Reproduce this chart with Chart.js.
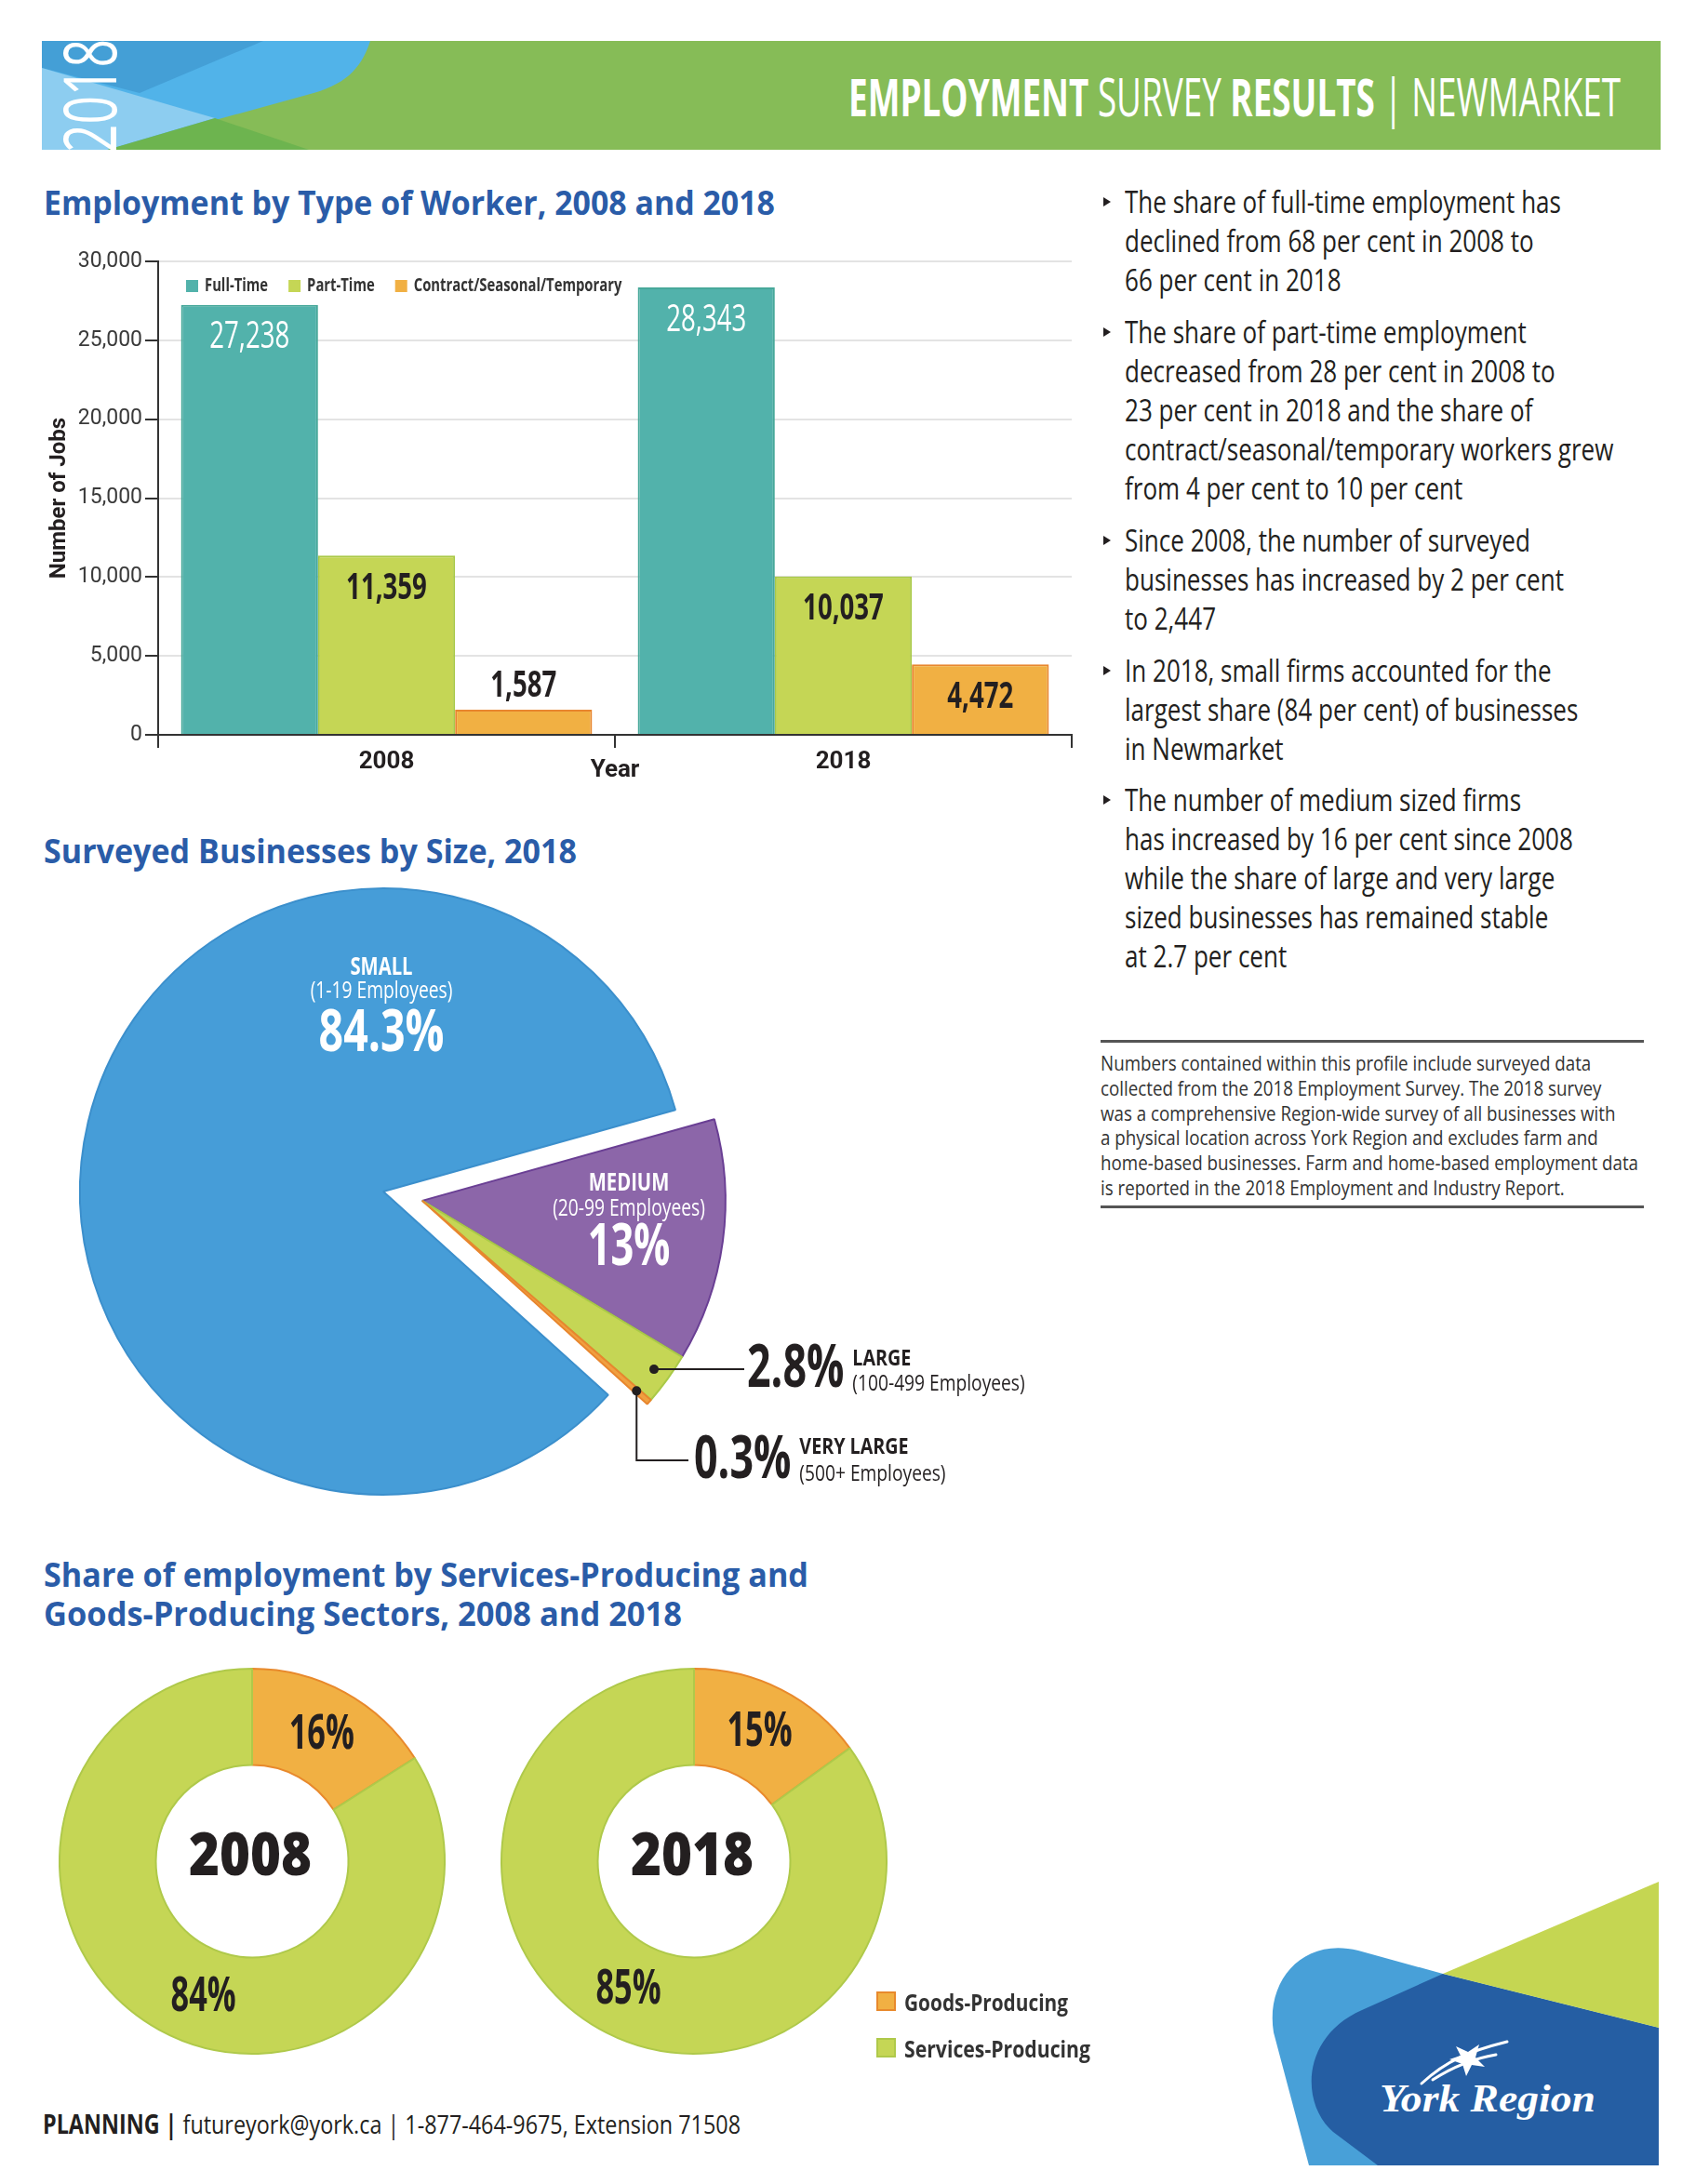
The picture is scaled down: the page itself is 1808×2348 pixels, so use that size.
<!DOCTYPE html>
<html lang="en">
<head>
<meta charset="UTF-8">
<title>Employment Survey Results | Newmarket</title>
<script src="https://cdn.jsdelivr.net/npm/chart.js"></script>
<style>
  body { margin: 0; background: #fff; }
  #page { position: relative; width: 1808px; height: 2348px; overflow: hidden; background: #fff;
          font-family: 'Open Sans', 'DejaVu Sans', sans-serif; color: #231f20; }
  .abs { position: absolute; white-space: nowrap; line-height: 1; transform-origin: 0 50%; }
  .title { color: #2a5ca8; font-weight: bold; font-size: 35px; }
  .bullet { font-size: 32px; }
  .note { font-size: 22px; color: #333; }
  .tri { position: absolute; width: 0; height: 0; border-left: 8px solid #231f20;
         border-top: 5px solid transparent; border-bottom: 5px solid transparent; }
  .rule { position: absolute; height: 3px; background: #555; }
  .sw { position: absolute; width: 17px; height: 17px; border: 2px solid; }
  canvas { position: absolute; }
  svg { position: absolute; left: 0; top: 0; }
</style>
</head>
<body>
<div id="page">
  <svg width="1808" height="2348">
    <defs><clipPath id="band"><rect x="45" y="44" width="1740" height="117"/></clipPath></defs>
    <g clip-path="url(#band)">
      <rect x="45" y="44" width="1740" height="117" fill="#86bc57"/>
      <path d="M45,44 L398,44 C388,75 370,92 330,102 L112,162 L45,162 Z" fill="#51b3e9"/>
      <path d="M45,44 L283,44 L150,100 L45,73 Z" fill="#449fd6"/>
      <path d="M45,73 L231,127 L112,162 L45,162 Z" fill="#8dcdf0"/>
      <path d="M231,127 L335,162 L112,162 Z" fill="#6db44f"/>
      <text transform="translate(125,164) rotate(-90)" font-size="78" fill="#fff"
            font-family="'Open Sans', 'DejaVu Sans', sans-serif"
            textLength="122" lengthAdjust="spacingAndGlyphs">2018</text>
    </g>
    <path d="M1551,2122 L1460,2097 C1400,2082 1360,2130 1369,2185 L1407,2328 L1783,2328 L1783,2180 Z" fill="#48a0d8"/>
    <path d="M1551,2122 L1783,2180 L1783,2328 L1481,2328 L1433,2292 C1398,2262 1398,2190 1464,2161 Z" fill="#255ea3"/>
    <path d="M1551,2122 L1783,2023 L1783,2180 Z" fill="#c5d652"/>
    <g fill="none" stroke="#fff" stroke-width="3" stroke-linecap="round">
      <path d="M1528,2240 C1555,2215 1580,2205 1620,2195"/>
      <path d="M1540,2236 C1565,2220 1590,2212 1608,2209"/>
    </g>
    <path d="M1565,2200 L1578,2206 L1590,2198 L1586,2212 L1596,2222 L1582,2220 L1576,2232 L1572,2219 L1558,2214 L1570,2210 Z" fill="#fff"/>
    <text x="1483" y="2270" font-size="42" font-weight="bold" font-style="italic" fill="#fff"
          font-family="'Liberation Serif', 'DejaVu Serif', serif" textLength="232" lengthAdjust="spacingAndGlyphs">York Region</text>
  </svg>

  <div class="abs" data-w="830" data-r="1742" style="top:75px;font-size:56px;color:#fff;">
    <b>EMPLOYMENT</b> SURVEY <b>RESULTS</b> | NEWMARKET</div>

  <div class="abs title" data-w="786" style="left:47px;top:200px;">Employment by Type of Worker, 2008 and 2018</div>
  <div class="abs title" data-w="573" style="left:47px;top:897px;">Surveyed Businesses by Size, 2018</div>
  <div class="abs title" data-w="822" style="left:47px;top:1675px;">Share of employment by Services-Producing and</div>
  <div class="abs title" data-w="686" style="left:47px;top:1717px;">Goods-Producing Sectors, 2008 and 2018</div>

  <canvas id="barChart" width="1160" height="620" style="left:0;top:250px;"></canvas>
  <canvas id="pieChart" width="1180" height="780" style="left:0;top:900px;"></canvas>
  <canvas id="donut2008" width="460" height="460" style="left:41px;top:1771px;"></canvas>
  <canvas id="donut2018" width="460" height="460" style="left:516px;top:1771px;"></canvas>

  <div class="rule" style="left:1183px;top:1118px;width:584px;"></div>
  <div class="rule" style="left:1183px;top:1296px;width:584px;"></div>

  <div class="abs" data-w="750" style="left:46px;top:2269px;font-size:28px;color:#231f20;">
    <b>PLANNING |</b> futureyork@york.ca | 1-877-464-9675, Extension 71508</div>
</div>

<script>
// ---- data ----
const years = ['2008', '2018'];
const workerTypes = ['Full-Time', 'Part-Time', 'Contract/Seasonal/Temporary'];
const fullTime = [27238, 28343];
const partTime = [11359, 10037];
const contract = [1587, 4472];
const jobAxisMax = 30000;
const jobAxisStep = 5000;

const sizeLabels = ['Medium', 'Large', 'Very Large', 'Small'];
const sizeShares = [13, 2.8, 0.3, 84.3];

const sectorLabels = ['Goods-Producing', 'Services-Producing'];
const sectors2008 = [16, 84];
const sectors2018 = [15, 85];

// ---- text ----
const bullets = [
  ['The share of full-time employment has', 'declined from 68 per cent in 2008 to', '66 per cent in 2018'],
  ['The share of part-time employment', 'decreased from 28 per cent in 2008 to', '23 per cent in 2018 and the share of',
   'contract/seasonal/temporary workers grew', 'from 4 per cent to 10 per cent'],
  ['Since 2008, the number of surveyed', 'businesses has increased by 2 per cent', 'to 2,447'],
  ['In 2018, small firms accounted for the', 'largest share (84 per cent) of businesses', 'in Newmarket'],
  ['The number of medium sized firms', 'has increased by 16 per cent since 2008', 'while the share of large and very large',
   'sized businesses has remained stable', 'at 2.7 per cent']
];
const noteLines = [
  'Numbers contained within this profile include surveyed data',
  'collected from the 2018 Employment Survey. The 2018 survey',
  'was a comprehensive Region-wide survey of all businesses with',
  'a physical location across York Region and excludes farm and',
  'home-based businesses. Farm and home-based employment data',
  'is reported in the 2018 Employment and Industry Report.'
];

const SANS = "'Open Sans', 'DejaVu Sans', sans-serif";
const TICK = "Roboto, 'DejaVu Sans', sans-serif";
const TEAL = '#52b2ab', GREEN = '#c5d655', ORANGE = '#f1b043';
const page = document.getElementById('page');

function addText(txt, x, cy, cls, size) {
  const d = document.createElement('div');
  d.className = 'abs ' + cls;
  d.textContent = txt;
  d.style.left = x + 'px';
  d.style.top = (cy - size / 2) + 'px';
  page.appendChild(d);
  return d;
}
function squeezeGroup(els, ref, target) {
  const k = target / els[ref].getBoundingClientRect().width;
  els.forEach(e => { e.style.transform = 'scaleX(' + k + ')'; });
}

const bulletTops = [217, 357, 581, 721, 860];
const bulletEls = [];
bullets.forEach((lines, i) => {
  const t = document.createElement('div');
  t.className = 'tri';
  t.style.left = '1186px';
  t.style.top = (bulletTops[i] - 5) + 'px';
  page.appendChild(t);
  lines.forEach((s, j) => bulletEls.push(addText(s, 1209, bulletTops[i] + j * 42, 'bullet', 32)));
});
squeezeGroup(bulletEls, 0, 469);

const noteEls = noteLines.map((s, j) => addText(s, 1183, 1142 + j * 26.8, 'note', 22));
squeezeGroup(noteEls, 4, 578);

// legend for the sector donuts
sectorLabels.forEach((s, i) => {
  const sw = document.createElement('div');
  sw.className = 'sw';
  sw.style.left = '942px';
  sw.style.top = (2141 + i * 50) + 'px';
  sw.style.background = i === 0 ? ORANGE : GREEN;
  sw.style.borderColor = i === 0 ? '#e8892c' : '#afc94a';
  page.appendChild(sw);
  const d = addText(s, 972, 2152 + i * 50, '', 25);
  d.style.fontSize = '25px';
  d.style.fontWeight = 'bold';
  d.style.color = '#333';
  d.dataset.w = i === 0 ? 176 : 200;
});

// squeeze headings to the reference widths
document.querySelectorAll('[data-w]').forEach(el => {
  const w = el.getBoundingClientRect().width;
  const target = +el.dataset.w;
  el.style.transform = 'scaleX(' + (target / w) + ')';
  if (el.dataset.r) el.style.left = (el.dataset.r - target) + 'px';
});

// condensed text on a canvas
function cText(ctx, txt, x, y, font, sx, align) {
  ctx.save();
  ctx.font = font;
  ctx.textAlign = align || 'center';
  ctx.textBaseline = 'middle';
  const w = ctx.measureText(txt).width * sx;
  ctx.translate(x, y);
  ctx.scale(sx, 1);
  ctx.fillText(txt, 0, 0);
  ctx.restore();
  return w;
}

Chart.defaults.devicePixelRatio = 1;
Chart.defaults.animation = false;
Chart.defaults.responsive = false;
Chart.defaults.plugins.tooltip.enabled = false;

// ---- bar chart ----
const barExtras = {
  id: 'barExtras',
  afterDatasetsDraw(chart) {
    const ctx = chart.ctx;
    chart.data.datasets.forEach((ds, di) => {
      chart.getDatasetMeta(di).data.forEach((bar, i) => {
        const inside = bar.base - bar.y > 60;
        ctx.fillStyle = di === 0 ? '#fff' : '#231f20';
        cText(ctx, ds.data[i].toLocaleString('en-US'), bar.x, inside ? bar.y + 35 : bar.y - 25,
              (di === 0 ? '500' : 'bold') + ' 40px ' + SANS, 0.69);
      });
    });
    // legend inside the plot area
    let x = chart.chartArea.left + 30;
    const y = chart.chartArea.top + 27;
    chart.data.datasets.forEach(ds => {
      ctx.fillStyle = ds.backgroundColor;
      ctx.fillRect(x, y - 7, 13, 13);
      ctx.fillStyle = '#333';
      const w = cText(ctx, ds.label, x + 20, y, 'bold 19px ' + SANS, 0.78, 'left');
      x += 20 + w + 22;
    });
  }
};

new Chart(document.getElementById('barChart'), {
  type: 'bar',
  data: {
    labels: years,
    datasets: [
      { label: workerTypes[0], data: fullTime, backgroundColor: TEAL, borderColor: '#47a89a', borderWidth: 2 },
      { label: workerTypes[1], data: partTime, backgroundColor: GREEN, borderColor: '#a9c947', borderWidth: 2 },
      { label: workerTypes[2], data: contract, backgroundColor: ORANGE, borderColor: '#e8862e', borderWidth: 2 }
    ]
  },
  options: {
    layout: { padding: { top: 31, right: 8, left: 0, bottom: 0 } },
    datasets: { bar: { categoryPercentage: 0.9, barPercentage: 1 } },
    scales: {
      x: {
        grid: { drawOnChartArea: false, drawTicks: true, tickLength: 14, color: '#333', lineWidth: 2 },
        border: { color: '#333', width: 2 },
        ticks: { font: { family: TICK, size: 26, weight: 'bold', lineHeight: 1 }, color: '#231f20', padding: 2 },
        title: { display: true, text: 'Year', color: '#231f20',
                 font: { family: TICK, size: 26, weight: 'bold', lineHeight: 1 }, padding: { top: 0, bottom: 29 } },
        afterFit: s => { s.height = 80; }
      },
      y: {
        min: 0, max: jobAxisMax,
        ticks: { stepSize: jobAxisStep, callback: v => v.toLocaleString('en-US'),
                 font: { family: TICK, size: 23 }, color: '#3a3a3a', padding: 3 },
        grid: { color: '#e3e3e3', lineWidth: 2, tickColor: '#333', tickLength: 14 },
        border: { color: '#333', width: 2 },
        title: { display: true, text: 'Number of Jobs', color: '#231f20',
                 font: { family: TICK, size: 24, weight: 'bold' }, padding: { top: 50, bottom: 0 } },
        afterFit: s => { s.width = 170; }
      }
    },
    plugins: { legend: { display: false } }
  },
  plugins: [barExtras]
});

// ---- pie chart (medium/large/very large pulled out together) ----
const PIE_TOP = 900;
const explodeIdx = [0, 1, 2];
function explodeShift(meta) {
  const a = (meta.data[explodeIdx[0]].startAngle + meta.data[explodeIdx[explodeIdx.length - 1]].endAngle) / 2;
  return { dx: Math.cos(a) * 43, dy: Math.sin(a) * 43 };
}
const explode = {
  id: 'explode',
  beforeDatasetDraw(chart, args) {
    const ctx = chart.ctx;
    const sh = explodeShift(args.meta);
    args.meta.data.forEach((arc, i) => {
      ctx.save();
      if (explodeIdx.includes(i)) ctx.translate(sh.dx, sh.dy);
      arc.draw(ctx, chart.chartArea);
      ctx.restore();
    });
    return false;
  }
};
const pieLabels = {
  id: 'pieLabels',
  afterDraw(chart) {
    const ctx = chart.ctx;
    const meta = chart.getDatasetMeta(0);
    const sh = explodeShift(meta);
    const y0 = PIE_TOP;
    ctx.fillStyle = '#fff';
    cText(ctx, 'SMALL', 410, 1040 - y0, 'bold 27px ' + SANS, 0.75);
    cText(ctx, '(1-19 Employees)', 410, 1066 - y0, '26px ' + SANS, 0.74);
    cText(ctx, sizeShares[3] + '%', 410, 1112 - y0, 'bold 62px ' + SANS, 0.75);
    cText(ctx, 'MEDIUM', 676, 1272 - y0, 'bold 27px ' + SANS, 0.75);
    cText(ctx, '(20-99 Employees)', 676, 1300 - y0, '26px ' + SANS, 0.74);
    cText(ctx, sizeShares[0] + '%', 676, 1342 - y0, 'bold 62px ' + SANS, 0.7);

    // callouts for the thin slices
    const dot = i => {
      const a = meta.data[i];
      const m = (a.startAngle + a.endAngle) / 2;
      const r = a.outerRadius * 0.945;
      return { x: a.x + sh.dx + Math.cos(m) * r, y: a.y + sh.dy + Math.sin(m) * r };
    };
    ctx.save();
    ctx.fillStyle = '#231f20';
    ctx.strokeStyle = '#231f20';
    ctx.lineWidth = 2;
    const p1 = dot(1), p2 = dot(2);
    ctx.beginPath(); ctx.moveTo(p1.x, p1.y); ctx.lineTo(800, p1.y); ctx.stroke();
    const yV = 1570 - y0;
    ctx.beginPath(); ctx.moveTo(p2.x, p2.y); ctx.lineTo(p2.x, yV); ctx.lineTo(740, yV); ctx.stroke();
    [p1, p2].forEach(p => { ctx.beginPath(); ctx.arc(p.x, p.y, 5, 0, Math.PI * 2); ctx.fill(); });
    ctx.restore();

    ctx.fillStyle = '#231f20';
    const w1 = cText(ctx, sizeShares[1] + '%', 803, p1.y + 1, 'bold 64px ' + SANS, 0.7, 'left');
    const w2 = cText(ctx, sizeShares[2] + '%', 746, yV + 1, 'bold 64px ' + SANS, 0.7, 'left');
    cText(ctx, 'LARGE', 803 + w1 + 9, p1.y - 11, 'bold 24px ' + SANS, 0.82, 'left');
    cText(ctx, 'VERY LARGE', 746 + w2 + 9, yV - 14, 'bold 24px ' + SANS, 0.82, 'left');
    cText(ctx, '(100-499 Employees)', 803 + w1 + 9, p1.y + 16, '24px ' + SANS, 0.8, 'left');
    cText(ctx, '(500+ Employees)', 746 + w2 + 9, yV + 15, '24px ' + SANS, 0.8, 'left');
  }
};

new Chart(document.getElementById('pieChart'), {
  type: 'pie',
  data: {
    labels: sizeLabels,
    datasets: [{
      data: sizeShares,
      backgroundColor: ['#8c66a9', GREEN, '#f0a040', '#469dd8'],
      borderColor: ['#6a3f94', '#a9c947', '#e8862e', '#3b8fcc'],
      borderWidth: 2
    }]
  },
  options: {
    rotation: 74.4,
    radius: 326,
    layout: { padding: { right: 356, bottom: 18 } },
    plugins: { legend: { display: false } }
  },
  plugins: [explode, pieLabels]
});

// ---- sector donuts ----
const donutText = {
  id: 'donutText',
  afterDraw(chart, args, opts) {
    const ctx = chart.ctx;
    const meta = chart.getDatasetMeta(0);
    const vals = chart.data.datasets[0].data;
    ctx.fillStyle = '#231f20';
    cText(ctx, opts.year, meta.data[0].x - 2, meta.data[0].y - 3, '800 64px ' + SANS, 0.88);
    meta.data.forEach((a, i) => {
      const ang = a.startAngle + (a.endAngle - a.startAngle) * opts.frac[i];
      const r = (a.innerRadius + a.outerRadius) / 2;
      cText(ctx, vals[i] + '%', a.x + Math.cos(ang) * r, a.y + Math.sin(ang) * r, 'bold 52px ' + SANS, 0.66);
    });
  }
};
function donut(id, values, year, frac) {
  new Chart(document.getElementById(id), {
    type: 'doughnut',
    data: {
      labels: sectorLabels,
      datasets: [{ data: values, backgroundColor: [ORANGE, GREEN], borderColor: ['#e8892c', '#afc94a'], borderWidth: 2 }]
    },
    options: {
      radius: 207,
      cutout: '50%',
      plugins: { legend: { display: false }, donutText: { year: year, frac: frac } }
    },
    plugins: [donutText]
  });
}
donut('donut2008', sectors2008, years[0], [0.5, 0.47]);
donut('donut2018', sectors2018, years[1], [0.5, 0.5]);
</script>
</body>
</html>
